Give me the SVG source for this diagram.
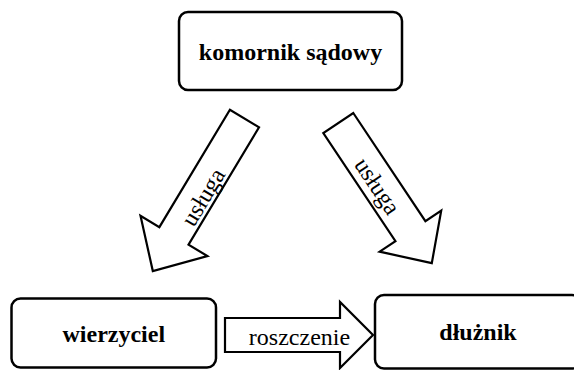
<svg xmlns="http://www.w3.org/2000/svg" width="574" height="370" viewBox="0 0 574 370">
<style>
.box{fill:#fff;stroke:#000;stroke-width:2.5}
.arr{fill:#fff;stroke:#000;stroke-width:2.2;stroke-linejoin:miter}
.lb{font-family:"Liberation Serif","Times New Roman",serif;font-size:24px;font-weight:bold;text-anchor:middle;fill:#000}
.lr{font-family:"Liberation Serif","Times New Roman",serif;font-size:24px;text-anchor:middle;fill:#000}
</style>
<rect x="0" y="0" width="574" height="370" fill="#fff"/>
<g id="connectors">
  <g id="arrow-left" transform="translate(244.5,118.5) rotate(121)">
    <polygon class="arr" points="0,-17 137,-17 137,-39 178,0 137,39 137,17 0,17"/>
  </g>
  <text class="lr" transform="translate(203,197) rotate(-59)" x="0" y="8">usługa</text>
  <g id="arrow-right" transform="translate(338.3,123) rotate(56.3)">
    <polygon class="arr" points="0,-18 130,-18 130,-37 168.5,0 130,37 130,18 0,18"/>
  </g>
  <text class="lr" transform="translate(377.5,186) rotate(56.3)" x="0" y="8">usługa</text>
  <g id="arrow-bottom">
    <polygon class="arr" points="225,318 340,318 340,302 373,335 340,368 340,352 225,352"/>
    <text class="lr" x="299.5" y="345">roszczenie</text>
  </g>
</g>
<g id="node-komornik">
  <rect class="box" x="179" y="12" width="223" height="78" rx="9"/>
  <text class="lb" x="290.5" y="60">komornik sądowy</text>
</g>
<g id="node-wierzyciel">
  <rect class="box" x="11.5" y="298.5" width="204.5" height="69" rx="9"/>
  <text class="lb" x="113.8" y="342">wierzyciel</text>
</g>
<g id="node-dluznik">
  <rect class="box" x="375" y="295" width="206" height="73.5" rx="9"/>
  <text class="lb" x="478" y="339.5">dłużnik</text>
</g>
</svg>
